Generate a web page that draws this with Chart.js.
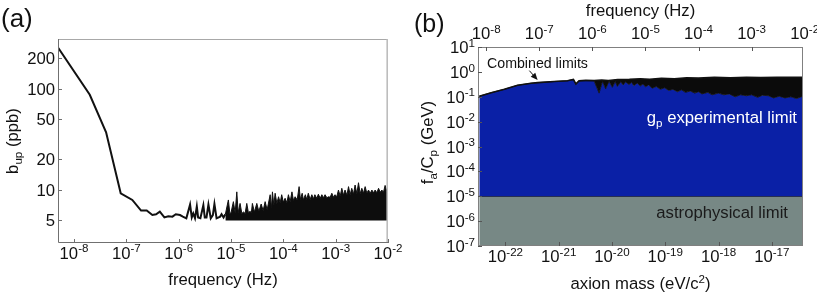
<!DOCTYPE html>
<html><head><meta charset="utf-8">
<script src="https://cdn.jsdelivr.net/npm/chart.js@4.4.1/dist/chart.umd.min.js"></script>
<style>
html,body{margin:0;padding:0;background:#fff;width:817px;height:295px;overflow:hidden}
#wa{position:absolute;left:0;top:0;width:412px;height:295px}
#wb{position:absolute;left:400px;top:0;width:417px;height:295px}
</style></head><body>
<div id="wa"><canvas id="ca" width="412" height="295"></canvas></div>
<div id="wb"><canvas id="cb" width="417" height="295"></canvas></div>
<script>
// ---------------- Panel (a) data ----------------
const aXMin = 4.94e-9, aXMax = 1.0e-2;
const aYMin = 2.96, aYMax = 310;
const aXTicks = [1e-8, 1e-7, 1e-6, 1e-5, 1e-4, 1e-3, 1e-2];
const aYTicks = [5, 10, 20, 50, 100, 200];
// main b_up curve (low-frequency part)
const aFreq = [4.94e-9, 2.0e-8, 4.1e-8, 7.8e-8, 1.30e-7, 1.91e-7, 2.45e-7, 3.14e-7, 3.70e-7, 4.36e-7, 5.33e-7, 6.35e-7, 7.59e-7, 8.81e-7,
  1.06e-6, 1.2e-6, 1.4e-6, 1.65e-6, 1.78e-6, 1.9e-6, 2.05e-6, 2.22e-6, 2.35e-6, 2.6e-6, 2.96e-6, 3.15e-6, 3.4e-6, 3.7e-6,
  4.1e-6, 4.5e-6, 4.82e-6, 5.3e-6, 6.2e-6, 6.6e-6, 7.2e-6, 7.8e-6];
const aBup = [255, 87, 37, 9.2, 7.9, 6.2, 6.2, 5.6, 5.7, 6.05, 5.3, 5.45, 5.4, 5.7,
  5.6, 5.4, 5.2, 7.1, 5.3, 5.8, 5.2, 6.8, 5.3, 5.2, 7.0, 5.3, 5.3, 7.1,
  5.2, 5.6, 7.2, 5.2, 5.4, 5.7, 5.3, 5.7];
// dense noisy part: upper envelope, filled down to the floor
const aBandFreq = [7.8e-6, 8.9e-6, 9.5e-6, 1.0e-5, 1.11e-5, 1.2e-5, 1.29e-5, 1.37e-5, 1.49e-5, 1.61e-5, 1.73e-5, 1.86e-5, 2.0e-5, 2.15e-5,
  2.32e-5, 2.45e-5, 2.56e-5, 2.8e-5, 3.11e-5, 3.4e-5, 3.77e-5, 4.11e-5, 4.49e-5, 4.9e-5, 5.6e-5, 5.93e-5, 6.19e-5, 6.58e-5,
  6.97e-5, 7.52e-5, 8.1e-5, 8.7e-5, 9.3e-5, 1.0e-4, 1.08e-4, 1.17e-4, 1.25e-4, 1.35e-4, 1.46e-4, 1.56e-4, 1.68e-4, 1.84e-4,
  2.0e-4, 2.12e-4, 2.29e-4, 2.42e-4, 2.63e-4, 2.81e-4, 3.0e-4, 3.25e-4, 3.5e-4, 3.77e-4, 4.0e-4, 4.36e-4, 4.67e-4, 5.06e-4,
  5.44e-4, 5.85e-4, 6.27e-4, 6.79e-4, 7.32e-4, 7.85e-4, 8.45e-4, 9.08e-4, 9.73e-4, 1.05e-3, 1.13e-3, 1.22e-3, 1.31e-3, 1.41e-3,
  1.51e-3, 1.64e-3, 1.76e-3, 1.89e-3, 2.03e-3, 2.19e-3, 2.35e-3, 2.54e-3, 2.73e-3, 2.94e-3, 3.16e-3, 3.4e-3, 3.66e-3, 3.94e-3,
  4.24e-3, 4.57e-3, 4.92e-3, 5.28e-3, 5.68e-3, 6.12e-3, 6.6e-3, 7.1e-3, 7.63e-3, 8.2e-3, 8.8e-3, 9.5e-3, 1.0e-2];
const aBandHigh = [5.7, 7.9, 5.8, 5.9, 7.6, 5.9, 9.5, 5.9, 7.3, 5.8, 6.0, 5.8, 7.3, 5.9,
  6.1, 5.9, 7.3, 6.0, 7.3, 6.1, 7.2, 6.2, 7.6, 6.3, 8.9, 6.6, 9.5, 7.0,
  9.2, 7.3, 8.5, 7.4, 8.9, 7.5, 8.2, 7.4, 8.9, 7.6, 9.5, 7.8, 8.5, 7.9,
  10.7, 8.0, 9.2, 7.9, 8.9, 8.0, 9.2, 8.0, 8.9, 8.1, 8.9, 8.2, 9.0, 8.2,
  8.9, 8.3, 8.9, 8.3, 8.5, 8.4, 9.2, 8.4, 8.9, 8.5, 9.9, 8.6, 10.3, 8.8,
  9.9, 8.8, 10.7, 8.9, 10.3, 9.0, 11.1, 9.1, 11.7, 9.1, 10.3, 9.2, 10.7, 9.2,
  9.9, 9.2, 9.9, 9.3, 9.9, 9.3, 10.3, 9.4, 9.9, 9.4, 11.0, 9.6, 10.5];
const aBandFloor = 4.95;

// ---------------- Panel (b) data ----------------
const PLANCK_EV_S = 4.1357e-15;           // axion mass (eV/c^2) = h * frequency
const bFMin = 7.4e-9, bFMax = 9.3e-3;
const bYMin = 1e-7, bYMax = 10;
const bFreqTicks = [1e-8, 1e-7, 1e-6, 1e-5, 1e-4, 1e-3, 1e-2];
const bMassTicks = [1e-22, 1e-21, 1e-20, 1e-19, 1e-18, 1e-17];
const bYTicks = [1e1, 1e0, 1e-1, 1e-2, 1e-3, 1e-4, 1e-5, 1e-6, 1e-7];
// combined limit (upper edge of black band)
const bCombFreq = [7.4e-9, 1.24e-8, 2.2e-8, 3.9e-8, 7.0e-8, 9.3e-8, 1.91e-7, 3.4e-7, 3.9e-7, 4.4e-7, 4.9e-7, 5.6e-7, 7.5e-7, 1.08e-6,
  1.5e-6, 2.0e-6, 3.0e-6, 5.0e-6, 8.0e-6, 1.2e-5, 2.0e-5, 3.5e-5, 6.0e-5, 1.0e-4, 2.0e-4, 4.0e-4, 8.0e-4, 1.5e-3, 3.0e-3, 6.0e-3, 9.3e-3];
const bComb = [0.105, 0.146, 0.20, 0.29, 0.35, 0.37, 0.41, 0.44, 0.47, 0.50, 0.33, 0.44, 0.46, 0.45,
  0.47, 0.45, 0.49, 0.50, 0.53, 0.50, 0.55, 0.53, 0.58, 0.56, 0.60, 0.58, 0.60, 0.59, 0.61, 0.60, 0.60];
// g_p experimental limit (top of blue region)
const bExpFreq = [7.4e-9, 1.24e-8, 2.2e-8, 3.9e-8, 7.0e-8, 9.3e-8, 1.91e-7, 3.4e-7, 3.9e-7, 4.4e-7, 4.9e-7, 5.6e-7, 7.5e-7, 1.08e-6,
  1.34e-6, 1.55e-6, 1.78e-6, 2.06e-6, 2.38e-6, 2.7e-6, 2.96e-6, 3.41e-6, 3.8e-6, 4.24e-6, 4.89e-6, 5.5e-6, 6.05e-6, 7.0e-6,
  8.0e-6, 9.0e-6, 1.0e-5, 1.15e-5, 1.34e-5, 1.6e-5, 1.9e-5, 2.3e-5, 2.75e-5, 3.3e-5, 4.0e-5, 4.8e-5, 5.65e-5, 7.0e-5,
  8.5e-5, 1.0e-4, 1.16e-4, 1.5e-4, 1.8e-4, 2.38e-4, 3.0e-4, 3.8e-4, 4.9e-4, 6.2e-4, 8.0e-4, 1.0e-3, 1.3e-3, 1.6e-3,
  2.07e-3, 2.6e-3, 3.3e-3, 4.26e-3, 5.5e-3, 7.0e-3, 8.7e-3, 9.3e-3];
const bExp = [0.105, 0.146, 0.20, 0.29, 0.35, 0.37, 0.41, 0.44, 0.47, 0.48, 0.31, 0.42, 0.44, 0.43,
  0.14, 0.42, 0.21, 0.42, 0.24, 0.41, 0.26, 0.40, 0.30, 0.40, 0.31, 0.38, 0.28, 0.36,
  0.27, 0.33, 0.25, 0.30, 0.22, 0.26, 0.20, 0.23, 0.18, 0.20, 0.16, 0.19, 0.15, 0.17,
  0.14, 0.16, 0.13, 0.15, 0.12, 0.14, 0.12, 0.13, 0.10, 0.12, 0.11, 0.12, 0.095, 0.115,
  0.11, 0.09, 0.105, 0.09, 0.10, 0.085, 0.10, 0.09];
// astrophysical limit
const bAstroFreq = [7.4e-9, 9.3e-3];
const bAstro = [1e-5, 1e-5];
// "Combined limits" arrow (tail, tip) in data units
const arrowTail = [6.5e-8, 1.12], arrowTip = [9.3e-8, 0.47];

// ---------------- helpers ----------------
const FONT = '"Liberation Sans", Arial, Helvetica, sans-serif';
const FS = 16.7, FSUP = 11.6;
function rich(ctx, parts, x, y, align) {
  let w = 0;
  parts.forEach(p => { ctx.font = p[1] + 'px ' + FONT; w += ctx.measureText(p[0]).width; });
  let cx = align === 'center' ? x - w / 2 : (align === 'right' ? x - w : x);
  ctx.textAlign = 'left'; ctx.textBaseline = 'alphabetic';
  parts.forEach(p => { ctx.font = p[1] + 'px ' + FONT; ctx.fillText(p[0], cx, y + (p[2] || 0)); cx += ctx.measureText(p[0]).width; });
}
function pow(v) { return [['10', FS, 0], [String(Math.round(Math.log10(v))), FSUP, -6.3]]; }
function pts(xs, ys) { return xs.map((f, i) => ({x: f, y: ys[i]})); }
function hideScale(extra) {
  return Object.assign({type: 'logarithmic', ticks: {display: false}, grid: {display: false, drawTicks: false}, border: {display: false}}, extra);
}

// ---------------- Panel (a) ----------------
const panelA = { id: 'panelA', afterDraw(chart) {
  const {ctx, chartArea: ca, scales: {x, y}} = chart;
  ctx.save();
  ctx.lineWidth = 1;
  ctx.strokeStyle = '#a8a8a8';
  ctx.beginPath(); ctx.moveTo(ca.left, ca.top + 0.5); ctx.lineTo(ca.right - 0.5, ca.top + 0.5); ctx.stroke();
  ctx.lineWidth = 1.6; ctx.strokeStyle = '#bdbdbd';
  ctx.beginPath(); ctx.moveTo(ca.right - 0.8, ca.top); ctx.lineTo(ca.right - 0.8, ca.bottom); ctx.stroke();
  ctx.lineWidth = 1; ctx.strokeStyle = '#707070';
  ctx.beginPath(); ctx.moveTo(ca.left + 0.5, ca.top); ctx.lineTo(ca.left + 0.5, ca.bottom - 0.5); ctx.lineTo(ca.right, ca.bottom - 0.5); ctx.stroke();
  ctx.beginPath();
  aXTicks.forEach(v => { const px = Math.round(x.getPixelForValue(v)) + 0.5; ctx.moveTo(px, ca.bottom); ctx.lineTo(px, ca.bottom - 4); });
  aYTicks.forEach(v => { const py = Math.round(y.getPixelForValue(v)) + 0.5; ctx.moveTo(ca.left, py); ctx.lineTo(ca.left + 4, py); });
  ctx.stroke();
  ctx.fillStyle = '#111';
  aXTicks.forEach(v => rich(ctx, pow(v), x.getPixelForValue(v), ca.bottom + 15.5, 'center'));
  ctx.font = FS + 'px ' + FONT; ctx.textAlign = 'right'; ctx.textBaseline = 'alphabetic';
  aYTicks.forEach(v => ctx.fillText(String(v), ca.left - 3, y.getPixelForValue(v) + 6));
  ctx.textAlign = 'center'; ctx.textBaseline = 'middle';
  ctx.fillText('frequency (Hz)', (ca.left + ca.right) / 2, 280);
  ctx.save();
  ctx.translate(12, (ca.top + ca.bottom) / 2); ctx.rotate(-Math.PI / 2);
  rich(ctx, [['b', FS, 0], ['up', FSUP, 4], [' (ppb)', FS, 0]], 0, 5.8, 'center');
  ctx.restore();
  ctx.font = '26px ' + FONT; ctx.textAlign = 'left'; ctx.textBaseline = 'middle';
  ctx.fillText('(a)', 1, 20);
  ctx.restore();
}};

new Chart(document.getElementById('ca'), {
  type: 'line',
  data: { datasets: [
    { data: pts(aFreq, aBup), borderColor: '#111', borderWidth: 2, pointRadius: 0, fill: false, tension: 0 },
    { data: pts(aBandFreq, aBandHigh), borderColor: '#111', borderWidth: 1, pointRadius: 0, backgroundColor: '#0d0d0d', fill: {value: aBandFloor}, tension: 0 }
  ]},
  options: {
    responsive: false, animation: false, devicePixelRatio: 1,
    layout: {padding: {left: 0, right: 24, top: 39, bottom: 0}},
    plugins: {legend: {display: false}, tooltip: {enabled: false}},
    scales: {
      x: hideScale({position: 'bottom', min: aXMin, max: aXMax, afterFit(s) { s.height = 52; }}),
      y: hideScale({position: 'left', min: aYMin, max: aYMax, afterFit(s) { s.width = 58; }})
    }
  },
  plugins: [panelA]
});

// ---------------- Panel (b) ----------------
const panelB = { id: 'panelB', afterDraw(chart) {
  const {ctx, chartArea: ca, scales} = chart;
  const xf = scales.xf, xm = scales.xm, y = scales.y;
  ctx.save();
  ctx.lineWidth = 1; ctx.strokeStyle = '#808080';
  ctx.strokeRect(ca.left + 0.5, ca.top + 0.5, ca.right - ca.left - 1, ca.bottom - ca.top - 1);
  ctx.strokeStyle = '#555';
  ctx.beginPath();
  bFreqTicks.forEach(v => { const px = Math.round(xf.getPixelForValue(v)) + 0.5; if (px <= ca.right) { ctx.moveTo(px, ca.top); ctx.lineTo(px, ca.top + 4); } });
  bMassTicks.forEach(v => { const px = Math.round(xm.getPixelForValue(v)) + 0.5; ctx.moveTo(px, ca.bottom); ctx.lineTo(px, ca.bottom - 4); });
  bYTicks.forEach(v => { const py = Math.round(y.getPixelForValue(v)) + 0.5; ctx.moveTo(ca.left, py); ctx.lineTo(ca.left + 4, py); });
  ctx.stroke();
  ctx.fillStyle = '#111';
  bFreqTicks.forEach(v => rich(ctx, pow(v), xf.getPixelForValue(v), 39, 'center'));
  bMassTicks.forEach(v => rich(ctx, pow(v), xm.getPixelForValue(v), ca.bottom + 16, 'center'));
  bYTicks.forEach(v => rich(ctx, pow(v), ca.left - 3, y.getPixelForValue(v) + 6, 'right'));
  ctx.font = FS + 'px ' + FONT; ctx.textAlign = 'center'; ctx.textBaseline = 'middle';
  ctx.fillText('frequency (Hz)', (ca.left + ca.right) / 2, 11);
  rich(ctx, [['axion mass (eV/c', FS, 0], ['2', FSUP, -6.3], [')', FS, 0]], (ca.left + ca.right) / 2, 289, 'center');
  ctx.save();
  ctx.translate(27, (ca.top + ca.bottom) / 2 - 4); ctx.rotate(-Math.PI / 2);
  rich(ctx, [['f', FS, 0], ['a', FSUP, 4], ['/C', FS, 0], ['p', FSUP, 4], [' (GeV)', FS, 0]], 0, 5.8, 'center');
  ctx.restore();
  // region labels
  ctx.fillStyle = '#ffffff';
  rich(ctx, [['g', FS, 0], ['p', FSUP, 4], [' experimental limit', FS, 0]], ca.right - 6, 123, 'right');
  ctx.fillStyle = '#1a1a1a';
  rich(ctx, [['astrophysical limit', FS, 0]], ca.right - 15, 218, 'right');
  ctx.fillStyle = '#111';
  rich(ctx, [['Combined limits', 14.2, 0]], ca.left + 9, 68, 'left');
  // arrow
  const tx = xf.getPixelForValue(arrowTail[0]), ty = y.getPixelForValue(arrowTail[1]);
  const hx = xf.getPixelForValue(arrowTip[0]), hy = y.getPixelForValue(arrowTip[1]);
  const ang = Math.atan2(hy - ty, hx - tx);
  ctx.strokeStyle = '#111'; ctx.lineWidth = 1;
  ctx.beginPath(); ctx.moveTo(tx, ty); ctx.lineTo(hx - 5 * Math.cos(ang), hy - 5 * Math.sin(ang)); ctx.stroke();
  ctx.beginPath();
  ctx.moveTo(hx, hy);
  ctx.lineTo(hx - 7 * Math.cos(ang) + 3 * Math.sin(ang), hy - 7 * Math.sin(ang) - 3 * Math.cos(ang));
  ctx.lineTo(hx - 7 * Math.cos(ang) - 3 * Math.sin(ang), hy - 7 * Math.sin(ang) + 3 * Math.cos(ang));
  ctx.closePath(); ctx.fill();
  ctx.font = '25px ' + FONT; ctx.textAlign = 'left'; ctx.textBaseline = 'middle';
  ctx.fillText('(b)', 14, 25);
  ctx.restore();
}};

new Chart(document.getElementById('cb'), {
  type: 'line',
  data: { datasets: [
    { data: pts(bCombFreq, bComb), xAxisID: 'xf', yAxisID: 'y', borderColor: '#111', borderWidth: 1.6, pointRadius: 0, backgroundColor: '#0b0b0b', fill: '+1', tension: 0 },
    { data: pts(bExpFreq, bExp), xAxisID: 'xf', yAxisID: 'y', borderColor: '#0a0a0a', borderWidth: 0.8, pointRadius: 0, backgroundColor: '#0a20a6', fill: {value: bAstro[0]}, tension: 0 },
    { data: pts(bAstroFreq, bAstro), xAxisID: 'xf', yAxisID: 'y', borderColor: '#111', borderWidth: 1.2, pointRadius: 0, backgroundColor: '#778885', fill: 'start', tension: 0 }
  ]},
  options: {
    responsive: false, animation: false, devicePixelRatio: 1,
    layout: {padding: {left: 0, right: 14, top: 0, bottom: 0}},
    plugins: {legend: {display: false}, tooltip: {enabled: false}},
    scales: {
      xf: hideScale({position: 'top', min: bFMin, max: bFMax, afterFit(s) { s.height = 47; }}),
      xm: hideScale({position: 'bottom', min: bFMin * PLANCK_EV_S, max: bFMax * PLANCK_EV_S, afterFit(s) { s.height = 49; }}),
      y: hideScale({position: 'left', min: bYMin, max: bYMax, afterFit(s) { s.width = 78; }})
    }
  },
  plugins: [panelB]
});
</script>
</body></html>
